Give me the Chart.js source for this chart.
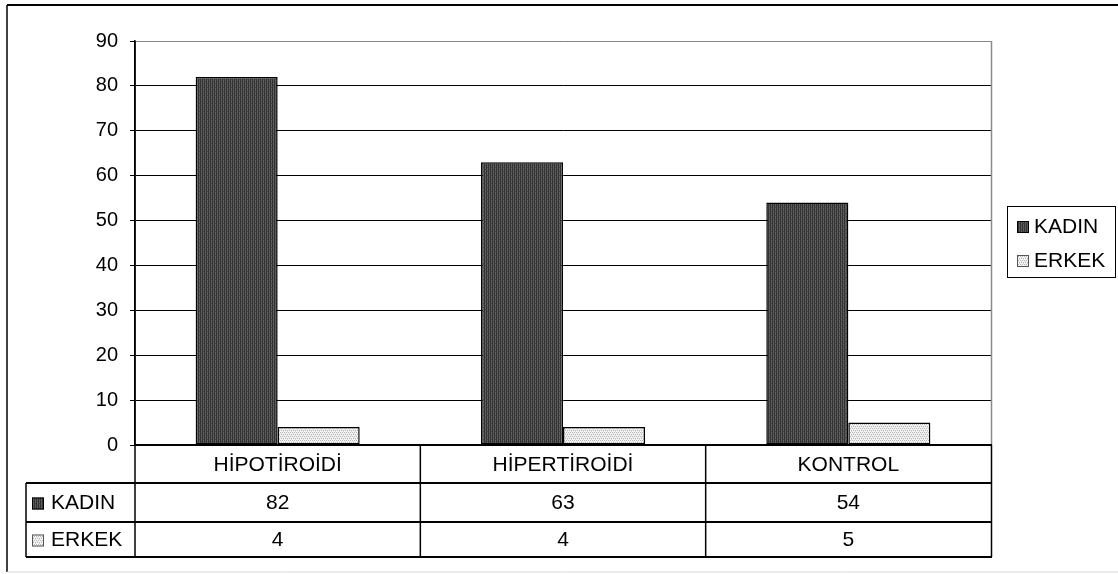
<!DOCTYPE html>
<html>
<head>
<meta charset="utf-8">
<script src="https://cdn.jsdelivr.net/npm/chart.js@4/dist/chart.umd.min.js"></script>
<style>
  html, body { margin: 0; padding: 0; background: #fff; }
  #wrap { width: 1118px; height: 574px; }
</style>
</head>
<body>
<div id="wrap"><canvas id="c" width="1118" height="574"></canvas></div>
<script>
// Chart data
const categories = ['HİPOTİROİDİ', 'HİPERTİROİDİ', 'KONTROL'];
const seriesNames = ['KADIN', 'ERKEK'];
const kadinValues = [82, 63, 54];
const erkekValues = [4, 4, 5];
const yMin = 0;
const yMax = 90;
const yStep = 10;

const FONT = '"Liberation Sans", Arial, sans-serif';
const TICK_SIZE = 20;
const TEXT_SIZE = 21;

// Fill patterns for the two series
function makePattern(kind) {
  const p = document.createElement('canvas');
  p.width = 4; p.height = 4;
  const g = p.getContext('2d');
  if (kind === 'dark') {
    g.fillStyle = '#333';
    g.fillRect(0, 0, 4, 4);
    g.fillStyle = '#606060';
    g.fillRect(1, 0, 1, 4);
    g.fillRect(3, 0, 1, 4);
    g.fillStyle = '#484848';
    g.fillRect(1, 1, 1, 1);
    g.fillRect(3, 3, 1, 1);
  } else {
    g.fillStyle = '#f4f4f4';
    g.fillRect(0, 0, 4, 4);
    g.fillStyle = '#b8b8b8';
    g.fillRect(0, 0, 1, 1);
    g.fillRect(2, 0, 1, 1);
    g.fillRect(1, 2, 1, 1);
    g.fillRect(3, 2, 1, 1);
    g.fillStyle = '#d8d8d8';
    g.fillRect(1, 1, 1, 1);
    g.fillRect(3, 3, 1, 1);
  }
  return g.createPattern(p, 'repeat');
}

const ctx0 = document.getElementById('c').getContext('2d');
const patterns = [makePattern('dark'), makePattern('light')];
const seriesValues = [kadinValues, erkekValues];

function hline(ctx, x1, x2, y, color, w) {
  ctx.save();
  ctx.strokeStyle = color; ctx.lineWidth = w;
  ctx.beginPath(); ctx.moveTo(x1, y); ctx.lineTo(x2, y); ctx.stroke();
  ctx.restore();
}
function vline(ctx, x, y1, y2, color, w) {
  ctx.save();
  ctx.strokeStyle = color; ctx.lineWidth = w;
  ctx.beginPath(); ctx.moveTo(x, y1); ctx.lineTo(x, y2); ctx.stroke();
  ctx.restore();
}
function keySwatch(ctx, x, yc, i) {
  ctx.save();
  ctx.fillStyle = patterns[i];
  ctx.fillRect(x, yc - 6, 12, 12);
  ctx.strokeStyle = i === 0 ? '#000' : '#555';
  ctx.lineWidth = 1;
  ctx.strokeRect(x + 0.5, yc - 5.5, 11, 11);
  ctx.restore();
}

// Frame, data table and legend
const tablePlugin = {
  id: 'dataTable',
  beforeDraw(chart) {
    const ctx = chart.ctx;
    ctx.save();
    ctx.fillStyle = '#fff';
    ctx.fillRect(0, 0, chart.width, chart.height);
    ctx.restore();
  },
  afterDraw(chart) {
    const ctx = chart.ctx;
    const a = chart.chartArea;
    const x = chart.scales.x;
    const n = categories.length;
    const colW = (a.right - a.left) / n;
    const row0 = a.bottom;        // category row top
    const row1 = a.bottom + 38;   // first series row top
    const row2 = row1 + 39;       // second series row top
    const row3 = row2 + 35;       // table bottom
    const tableLeft = 26;

    // outer frame
    vline(ctx, 7, 5, 572, '#000', 1.5);
    hline(ctx, 7, chart.width, 5, '#000', 2);
    hline(ctx, 7, chart.width, 572, '#d8d8d8', 1);

    // plot right edge
    vline(ctx, a.right + 0.5, a.top, row0, '#8a8a8a', 1.5);

    // table grid
    hline(ctx, a.left, a.right + 1, row0, '#000', 2);
    hline(ctx, tableLeft, a.right + 1, row1, '#000', 2);
    hline(ctx, tableLeft, a.right + 1, row2, '#000', 2);
    hline(ctx, tableLeft, a.right + 1, row3, '#000', 2);
    vline(ctx, tableLeft, row1, row3, '#000', 1.5);
    vline(ctx, a.left, a.top, row3, '#000', 1.5);
    for (let i = 1; i < n; i++) {
      vline(ctx, a.left + colW * i, row0, row3, '#000', 1.5);
    }
    vline(ctx, a.right + 0.5, row0, row3, '#000', 1.5);

    // texts
    ctx.save();
    ctx.font = TEXT_SIZE + 'px ' + FONT;
    ctx.fillStyle = '#000';
    ctx.textBaseline = 'middle';
    ctx.textAlign = 'center';
    for (let i = 0; i < n; i++) {
      const cx = x.getPixelForValue(i);
      ctx.fillText(categories[i], cx, (row0 + row1) / 2 + 1);
      ctx.fillText(String(kadinValues[i]), cx, (row1 + row2) / 2 + 1);
      ctx.fillText(String(erkekValues[i]), cx, (row2 + row3) / 2 + 1);
    }
    ctx.textAlign = 'left';
    const rowsMid = [(row1 + row2) / 2, (row2 + row3) / 2];
    for (let s = 0; s < 2; s++) {
      keySwatch(ctx, 32, rowsMid[s] + 1, s);
      ctx.fillText(seriesNames[s], 51, rowsMid[s] + 1);
    }

    // legend box
    ctx.strokeStyle = '#000';
    ctx.lineWidth = 1;
    ctx.strokeRect(1007.5, 206.5, 108, 71);
    const legY = [227, 261];
    for (let s = 0; s < 2; s++) {
      keySwatch(ctx, 1017, legY[s], s);
      ctx.fillText(seriesNames[s], 1034, legY[s]);
    }
    ctx.restore();
  }
};

new Chart(ctx0, {
  type: 'bar',
  data: {
    labels: categories,
    datasets: seriesNames.map((name, i) => ({
      label: name,
      data: seriesValues[i],
      backgroundColor: patterns[i],
      borderColor: '#000',
      borderWidth: 1.5,
      borderSkipped: false,
      barPercentage: 1.0,
      categoryPercentage: 0.575
    }))
  },
  options: {
    responsive: false,
    animation: false,
    devicePixelRatio: 1,
    layout: { padding: { left: 0, top: 41, right: 127, bottom: 129 } },
    plugins: {
      legend: { display: false },
      tooltip: { enabled: false }
    },
    scales: {
      x: { display: false },
      y: {
        min: yMin,
        max: yMax,
        afterFit(scale) { scale.width = 135; },
        border: { display: true, color: '#000', width: 1.5 },
        grid: {
          color: (c) => (c.tick && c.tick.value === yMax ? '#888' : '#000'),
          lineWidth: 1,
          tickLength: 5,
          tickColor: '#000',
          drawTicks: true
        },
        ticks: {
          stepSize: yStep,
          padding: 12,
          color: '#000',
          font: { family: FONT, size: TICK_SIZE }
        }
      }
    }
  },
  plugins: [tablePlugin]
});
</script>
</body>
</html>
